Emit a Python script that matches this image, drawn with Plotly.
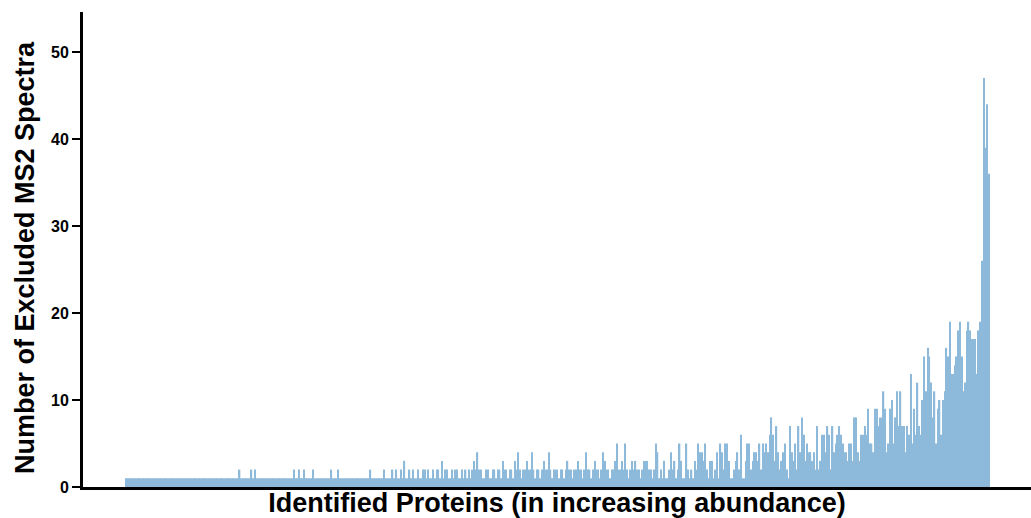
import plotly.graph_objects as go

# Excluded MS2 spectra per identified protein, proteins ordered by increasing abundance
low_abundance = [
    1, 1, 1, 1, 1, 1, 1, 1, 1, 1,
    1, 1, 1, 1, 1, 1, 1, 1, 1, 1,
    1, 1, 1, 1, 1, 1, 1, 1, 1, 1,
    1, 1, 1, 1, 1, 1, 1, 1, 1, 1,
    1, 1, 1, 1, 1, 1, 1, 1, 1, 1,
    1, 1, 1, 1, 1, 1, 1, 1, 1, 1,
    1, 1, 1, 1, 1, 1, 1, 2, 1, 1,
    1, 1, 1, 1, 2, 1, 2, 1, 1, 1,
    1, 1, 1, 1, 1, 1, 1, 1, 1, 1,
    1, 1, 1, 1, 1, 1, 1, 1, 1, 2,
]

lower_mid = [
    1, 1, 2, 1, 1, 2, 1, 1, 1, 1,
    2, 1, 1, 1, 1, 1, 1, 1, 1, 1,
    1, 2, 1, 1, 1, 2, 1, 1, 1, 1,
    1, 1, 1, 1, 1, 1, 1, 1, 1, 1,
    1, 1, 1, 1, 2, 1, 1, 1, 1, 1,
    1, 1, 2, 1, 1, 1, 1, 2, 1, 2,
    1, 1, 2, 1, 3, 1, 1, 2, 1, 2,
    1, 1, 2, 1, 1, 2, 2, 1, 2, 1,
    1, 2, 1, 2, 2, 1, 3, 1, 2, 2,
    1, 1, 2, 1, 2, 2, 1, 1, 2, 1,
]

mid = [
    2, 1, 2, 1, 2, 3, 2, 4, 2, 2,
    1, 1, 2, 2, 1, 1, 2, 2, 1, 2,
    2, 1, 3, 2, 2, 1, 2, 2, 1, 3,
    2, 4, 2, 1, 2, 2, 3, 2, 2, 4,
    2, 1, 2, 2, 1, 2, 3, 2, 2, 4,
    2, 1, 2, 2, 2, 1, 2, 2, 1, 2,
    3, 2, 2, 1, 2, 2, 3, 2, 2, 1,
    2, 4, 2, 2, 1, 2, 3, 2, 2, 1,
    2, 4, 3, 2, 2, 1, 2, 2, 3, 5,
    2, 2, 3, 2, 5, 2, 1, 2, 3, 2,
    3, 2, 2, 1, 2, 3,
]

upper_mid = [
    3, 3, 2, 2, 1, 2, 5, 4, 1, 2,
    1, 3, 1, 1, 2, 4, 2, 3, 1, 2,
    5, 3, 1, 1, 5, 2, 1, 2, 1, 3,
    2, 5, 4, 4, 3, 5, 2, 1, 3, 3,
    1, 2, 4, 1, 5, 4, 2, 5, 5, 3,
    1, 1, 2, 3, 4, 2, 6, 1, 1, 3,
    5, 5, 2, 3, 4, 4, 3, 5, 2, 5,
    4, 5, 4, 6, 8, 6, 3, 7, 4, 2,
    3, 4, 5, 2, 1, 7, 4, 3, 5, 2,
    7, 4, 8, 6, 3, 5, 4,
]

high = [
    4, 3, 4, 2, 7, 2, 3, 6, 6, 4,
    7, 6, 2, 7, 4, 5, 6, 7, 6, 5,
    4, 4, 3, 5, 5, 3, 8,
    8, 4, 3, 6, 6, 7, 6, 9, 5, 5,
    4, 9, 9, 7, 8, 8, 11, 9, 4, 5,
    9, 10, 5, 8, 11, 7,
]

top_abundance = [
    11, 7, 7, 4, 7, 6, 13, 5, 9, 6,
    12, 7, 6, 10, 15, 11, 16, 15, 12, 8,
    11, 5, 9, 10, 6, 10,
    11, 16, 15, 19, 13, 13, 14, 15, 18, 19,
    15, 11, 12, 18, 19, 18, 17, 17, 17, 13,
    18, 19, 26, 47, 39, 44, 36,
]

spectra = low_abundance + lower_mid + mid + upper_mid + high + top_abundance
protein_rank = list(range(len(spectra)))

y_ticks = [0, 10, 20, 30, 40, 50]

FONT = "Arial, 'Liberation Sans', Helvetica, sans-serif"

fig = go.Figure(
    go.Bar(
        x=protein_rank,
        y=spectra,
        marker=dict(color="rgb(141,186,219)", line=dict(width=0)),
        hoverinfo="y",
    )
)

n = len(spectra)
fig.update_layout(
    width=1031,
    height=518,
    margin=dict(l=83, r=0, t=12, b=31),
    paper_bgcolor="white",
    plot_bgcolor="white",
    bargap=0.2,
    showlegend=False,
    font=dict(family=FONT, color="black"),
)

fig.update_xaxes(
    range=[-25.2, n - 1 + 24.8],
    showticklabels=False,
    ticks="",
    showgrid=False,
    zeroline=False,
    showline=True,
    linecolor="black",
    linewidth=3,
    title=dict(
        text="Identified Proteins (in increasing abundance)",
        font=dict(family=FONT, size=27, color="black", weight="bold"),
        standoff=5,
    ),
)

fig.update_yaxes(
    range=[0, 54.6],
    tickvals=y_ticks,
    ticktext=[str(v) for v in y_ticks],
    ticks="outside",
    ticklen=8,
    tickwidth=2,
    tickcolor="black",
    tickfont=dict(family=FONT, size=16, color="black", weight="bold"),
    showgrid=False,
    zeroline=False,
    showline=True,
    linecolor="black",
    linewidth=3,
)

# Vertical axis title placed as a rotated annotation left of the tick labels
fig.add_annotation(
    text="Number of Excluded MS2 Spectra",
    textangle=-90,
    xref="paper",
    yref="paper",
    x=-0.0612,
    y=0.484,
    xanchor="center",
    yanchor="middle",
    showarrow=False,
    font=dict(family=FONT, size=27, color="black", weight="bold"),
)

fig.write_html("out.html")
